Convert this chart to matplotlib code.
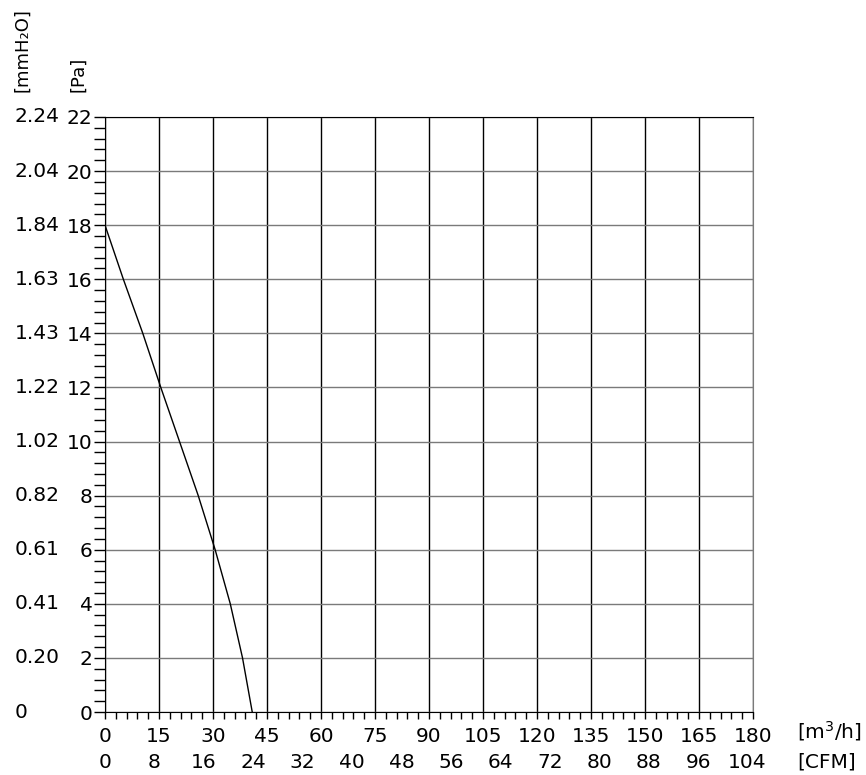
import numpy as np
import matplotlib.pyplot as plt
from matplotlib.ticker import MultipleLocator
import matplotlib.transforms as mtransforms

# Curve: airflow [m3/h] vs static pressure [Pa]
flow = [0, 5.1, 10.5, 15.5, 20.7, 25.9, 30.6, 34.8, 38.2, 40.9]
pressure = [18, 16, 14, 12, 10, 8, 6, 4, 2, 0]

pa_ticks = [0, 2, 4, 6, 8, 10, 12, 14, 16, 18, 20, 22]
mmh2o_labels = ['0', '0.20', '0.41', '0.61', '0.82', '1.02', '1.22', '1.43',
                '1.63', '1.84', '2.04', '2.24']
m3h_ticks = [0, 15, 30, 45, 60, 75, 90, 105, 120, 135, 150, 165, 180]
cfm_labels = ['0', '8', '16', '24', '32', '40', '48', '56', '64', '72', '80',
              '88', '96', '104']

fs = 14.5
fig = plt.figure(figsize=(8.66, 7.75), dpi=100)
ax = fig.add_axes([105 / 866, 1 - 712 / 775, 648 / 866, 595 / 775])

ax.plot(flow, pressure, color='black', lw=1.0, zorder=3)

ax.set_xlim(0, 180)
ax.set_ylim(0, 22)
ax.set_xticks(m3h_ticks)
ax.set_yticks(pa_ticks)
ax.xaxis.set_minor_locator(MultipleLocator(3))
ax.yaxis.set_minor_locator(MultipleLocator(0.4))
ax.tick_params(axis='both', which='both', direction='out', color='black',
               width=1, labelsize=fs)
ax.tick_params(axis='x', which='both', length=5, pad=6)
ax.tick_params(axis='y', which='both', length=8, pad=1)

ax.xaxis.grid(True, color='black', lw=1.0)
ax.yaxis.grid(True, color='#7a7a7a', lw=1.0)
ax.set_axisbelow(True)
for side in ['left', 'top', 'bottom']:
    ax.spines[side].set_color('black')
ax.spines['right'].set_color('#7a7a7a')

# mmH2O column on the left
tr_y = mtransforms.blended_transform_factory(fig.transFigure, ax.transData)
for v, lab in zip(pa_ticks, mmh2o_labels):
    ax.text(15 / 866, v, lab, transform=tr_y, ha='left', va='center',
            fontsize=fs)

# CFM row below the axis, evenly spread under the flow axis
tr_x = mtransforms.blended_transform_factory(ax.transData, fig.transFigure)
cfm_pos = np.linspace(0, 178.5, len(cfm_labels))
for v, lab in zip(cfm_pos, cfm_labels):
    ax.text(v, 1 - 762 / 775, lab, transform=tr_x, ha='center', va='center',
            fontsize=fs)

fig.text(797 / 866, 1 - 731 / 775, '[m$^3$/h]', ha='left', va='center',
         fontsize=fs)
fig.text(797 / 866, 1 - 762 / 775, '[CFM]', ha='left', va='center',
         fontsize=fs)
fig.text(22 / 866, 1 - 92 / 775, '[mmH\u2082O]', rotation=90, ha='center',
         va='bottom', fontsize=13)
fig.text(78 / 866, 1 - 92 / 775, '[Pa]', rotation=90, ha='center',
         va='bottom', fontsize=13)

fig.savefig('out.png', dpi=100)
